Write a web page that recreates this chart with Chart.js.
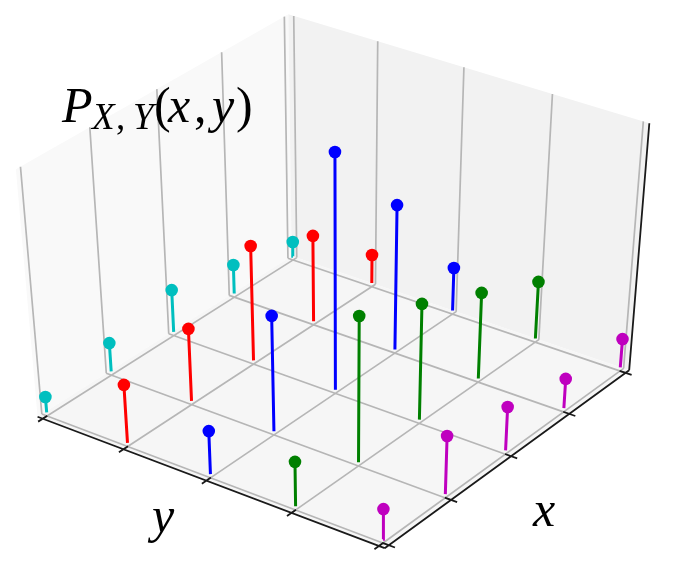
<!DOCTYPE html>
<html><head><meta charset="utf-8">
<style>html,body{margin:0;padding:0;background:#fff}canvas{display:block}</style>
<script src="https://cdn.jsdelivr.net/npm/chart.js@4/dist/chart.umd.min.js"></script>
</head><body>
<canvas id="c" width="677" height="567"></canvas>
<script>
// ---- data ----
const xCategories = [0, 1, 2, 3, 4];
const yCategories = [0, 1, 2, 3, 4];
const zRow0 = [0.066, 0.122, 0.180, 0.124, 0.063];
const zRow1 = [0.245, 0.305, 0.481, 0.363, 0.122];
const zRow2 = [0.182, 0.480, 0.962, 0.602, 0.183];
const zRow3 = [0.187, 0.601, 0.482, 0.361, 0.242];
const zRow4 = [0.127, 0.244, 0.184, 0.125, 0.121];
const zRows = [zRow0, zRow1, zRow2, zRow3, zRow4];
const rowColors = ['#00bfbf', '#ff0000', '#0000ff', '#008000', '#bf00bf'];

// ---- view: perspective camera of the 3-D box ----
const ax = 264.95, bx = 316.36, cx = 47, dz = -22.73;
const ay = -139.18, by = 99.15, cy = 416, ey = -258.6;
const aw = 0.06469, bw = -0.05128, ew = -0.06645;
const zFloor = -0.016, zTop = 0.984, pad = 0.065;
function project(x, y, z) {
  const s = x / 4, t = y / 4, h = z - zFloor;
  const w = aw * s + bw * t + 1 + ew * h;
  return { x: (ax * s + bx * t + cx + dz * h) / w, y: (ay * s + by * t + cy + ey * h) / w };
}
const lo = -pad, hi = 4 + pad;
const gap = { x: NaN, y: NaN };
const poly = pts => pts.map(p => project(p[0], p[1], p[2]));
function segs(list) {
  const out = [];
  list.forEach(s => { out.push(project(...s[0]), project(...s[1]), gap); });
  return out;
}
const shape = (pts, color) => ({ data: poly(pts), showLine: true, fill: 'shape', backgroundColor: color, borderWidth: 0, pointRadius: 0, clip: false });
const lines = (list, color, width) => ({ data: segs(list), showLine: true, spanGaps: false, fill: false, borderColor: color, borderWidth: width, pointRadius: 0, clip: false, borderCapStyle: 'butt' });

const datasets = [
  shape([[lo, lo, zTop], [hi, lo, zTop], [hi, lo, zFloor], [lo, lo, zFloor], [lo, lo, zTop]], '#f9f9f9'),
  shape([[hi, lo, zTop], [hi, hi, zTop], [hi, hi, zFloor], [hi, lo, zFloor], [hi, lo, zTop]], '#f2f2f2'),
  shape([[lo, lo, zFloor], [hi, lo, zFloor], [hi, hi, zFloor], [lo, hi, zFloor], [lo, lo, zFloor]], '#f6f6f6'),
];
const gridList = [];
xCategories.forEach(x => {
  gridList.push([[x, lo, zFloor], [x, hi, zFloor]]);
  gridList.push([[x, lo, zFloor], [x, lo, zTop]]);
});
yCategories.forEach(y => {
  gridList.push([[lo, y, zFloor], [hi, y, zFloor]]);
  gridList.push([[hi, y, zFloor], [hi, y, zTop]]);
});
datasets.push(lines(gridList, '#b6b6b6', 1.7));

const axisList = [
  [[lo, lo, zFloor], [lo, hi, zFloor]],
  [[lo, hi, zFloor], [hi, hi, zFloor]],
  [[hi, hi, zFloor], [hi, hi, zTop]],
];
const tickLen = 0.07;
yCategories.forEach(y => axisList.push([[lo - tickLen, y, zFloor], [lo + tickLen, y, zFloor]]));
xCategories.forEach(x => axisList.push([[x, hi - tickLen, zFloor], [x, hi + tickLen, zFloor]]));
datasets.push(lines(axisList, '#1a1a1a', 1.8));

zRows.forEach((row, r) => {
  const stems = row.map((z, i) => [[xCategories[i], yCategories[r], 0], [xCategories[i], yCategories[r], z]]);
  datasets.push(lines(stems, rowColors[r], 3));
  datasets.push({
    data: row.map((z, i) => project(xCategories[i], yCategories[r], z)),
    showLine: false, pointRadius: 6.3, pointBackgroundColor: rowColors[r], pointBorderWidth: 0, clip: false
  });
});
datasets.reverse(); // Chart.js paints the first dataset last

// ---- real text labels ----
const labels = [
  { text: 'P', x: 62, y: 122, size: 50, style: 'italic' },
  { text: 'X', x: 92, y: 129, size: 37, style: 'italic' },
  { text: ',', x: 116, y: 129, size: 37, style: 'normal' },
  { text: 'Y', x: 133, y: 129, size: 37, style: 'italic' },
  { text: '(', x: 154, y: 122, size: 50, style: 'normal' },
  { text: 'x', x: 168, y: 122, size: 50, style: 'italic' },
  { text: ',', x: 194, y: 122, size: 50, style: 'normal' },
  { text: 'y', x: 212, y: 122, size: 50, style: 'italic' },
  { text: ')', x: 236, y: 122, size: 50, style: 'normal' },
  { text: 'y', x: 152, y: 532, size: 50, style: 'italic' },
  { text: 'x', x: 533, y: 526, size: 50, style: 'italic' },
];
const textPlugin = {
  id: 'textPlugin',
  afterDraw(chart) {
    const c = chart.ctx;
    c.save();
    c.fillStyle = '#000';
    c.textBaseline = 'alphabetic';
    labels.forEach(l => {
      c.font = l.style + ' ' + l.size + 'px "Liberation Serif"';
      c.fillText(l.text, l.x, l.y);
    });
    c.restore();
  }
};

new Chart(document.getElementById('c'), {
  type: 'scatter',
  data: { datasets },
  plugins: [textPlugin],
  options: {
    responsive: false, animation: false,
    layout: { padding: 0, autoPadding: false },
    plugins: { legend: { display: false }, tooltip: { enabled: false }, title: { display: false } },
    scales: {
      x: { type: 'linear', min: 0, max: 677, display: false },
      y: { type: 'linear', min: 0, max: 567, reverse: true, display: false }
    }
  }
});
</script>
</body></html>
